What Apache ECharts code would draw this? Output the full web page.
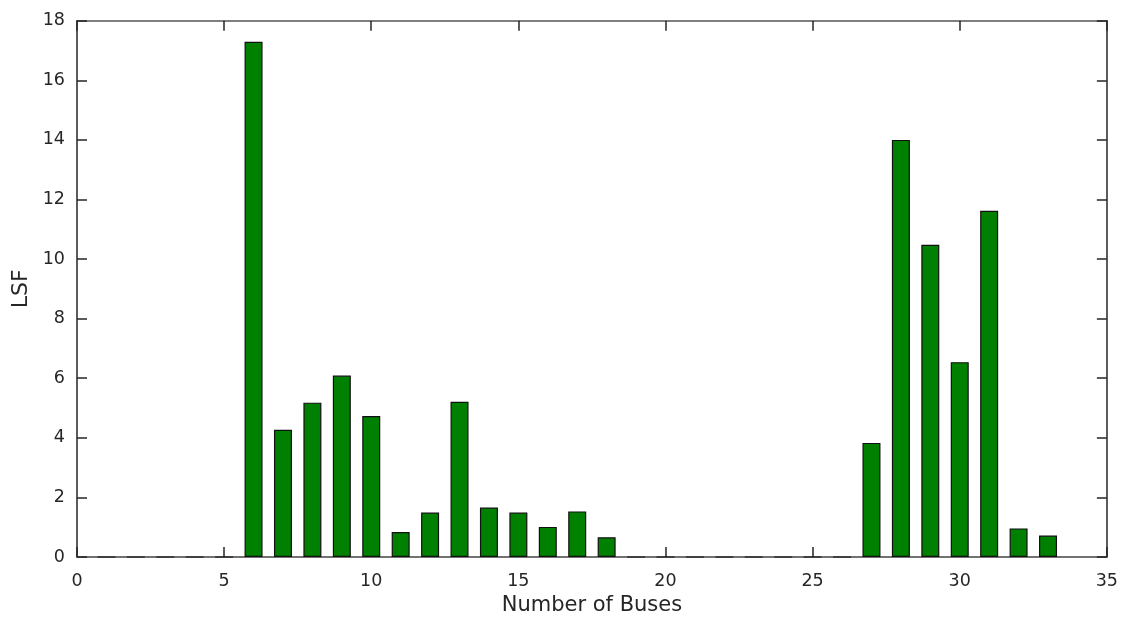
<!DOCTYPE html>
<html>
<head>
<meta charset="utf-8">
<script src="https://cdn.jsdelivr.net/npm/echarts@6/dist/echarts.min.js"></script>
<style>html,body{margin:0;padding:0;background:#fff}#c{width:1121px;height:621px}</style>
</head>
<body>
<div id="c"></div>
<script>
const buses = [1,2,3,4,5,6,7,8,9,10,11,12,13,14,15,16,17,18,19,20,21,22,23,24,25,26,27,28,29,30,31,32,33];
const lsf = [0,0,0,0,0,17.29,4.27,5.18,6.09,4.73,0.84,1.49,5.21,1.66,1.49,1.01,1.53,0.66,0,0,0,0,0,0,0,0,3.83,14.0,10.48,6.54,11.62,0.96,0.72];
const xTicks = [0,5,10,15,20,25,30,35];
const yTicks = [0,2,4,6,8,10,12,14,16,18];
const xTitle = 'Number of Buses';
const yTitle = 'LSF';

const font = '"DejaVu Sans", Verdana, sans-serif';
const ink = '#262626';
const chart = echarts.init(document.getElementById('c'), null, {renderer:'canvas'});
const axisCommon = {
  axisLine:{show:true, onZero:false, lineStyle:{color:ink, width:1.5}},
  axisTick:{show:true, inside:true, length:10, lineStyle:{color:ink, width:1.5}},
  splitLine:{show:false}
};
chart.setOption({
  animation:false,
  grid:{left:77, right:12.5, top:20.7, bottom:63.3, containLabel:false},
  xAxis:[
    Object.assign({type:'value', min:xTicks[0], max:xTicks[xTicks.length-1], interval:5,
      name:xTitle, nameLocation:'middle', nameGap:38,
      nameTextStyle:{fontFamily:font, fontSize:21, color:ink},
      axisLabel:{fontFamily:font, fontSize:17.5, color:ink, margin:15}}, axisCommon,
      {axisLine:{show:true, onZero:false, lineStyle:{color:'#444', width:1.5}}}),
    Object.assign({type:'value', position:'top', min:xTicks[0], max:xTicks[xTicks.length-1], interval:5,
      axisLabel:{show:false}}, axisCommon, {axisLine:{show:true, onZero:false, lineStyle:{color:'#555', width:1.5}}})
  ],
  yAxis:[
    Object.assign({type:'value', min:yTicks[0], max:yTicks[yTicks.length-1], interval:2,
      name:yTitle, nameLocation:'middle', nameGap:45, nameRotate:90,
      nameTextStyle:{fontFamily:font, fontSize:22, color:ink},
      axisLabel:{fontFamily:font, fontSize:17.5, color:ink, margin:12}}, axisCommon),
    Object.assign({type:'value', position:'right', min:yTicks[0], max:yTicks[yTicks.length-1], interval:2,
      axisLabel:{show:false}}, axisCommon)
  ],
  series:[{
    type:'bar', xAxisIndex:0, yAxisIndex:0,
    data: buses.map((b,i)=>[b, lsf[i]]),
    barWidth:18,
    itemStyle:{color:'#008000', borderColor:'#111', borderWidth:1.2}
  }]
});
</script>
</body>
</html>
